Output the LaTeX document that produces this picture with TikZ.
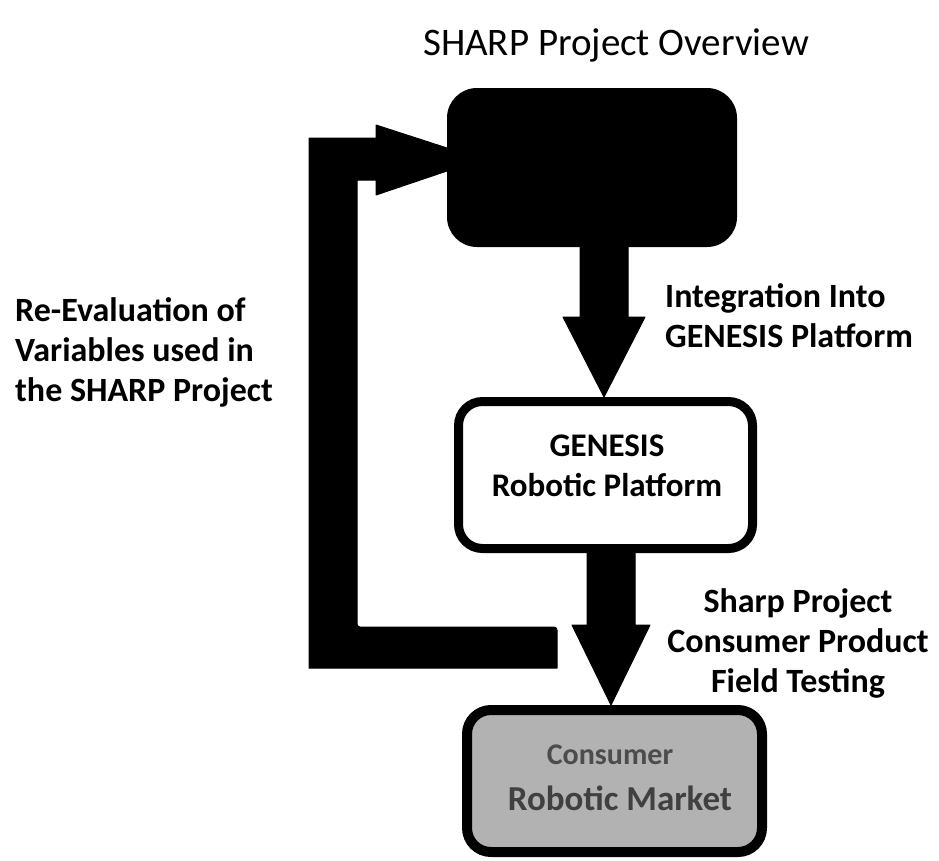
\documentclass[tikz,border=0pt]{standalone}
\usepackage{fontspec}
\setmainfont{Carlito}
\begin{document}
\begin{tikzpicture}[x=1pt,y=-1pt,
  lbl/.style={font=\bfseries\fontsize{34}{40}\selectfont, inner sep=0pt},
  boxtxt/.style={font=\bfseries\fontsize{33}{40}\selectfont, inner sep=0pt},
  arrowshape/.style={fill=black, draw=black, line width=1pt, line join=round}]
\useasboundingbox (0,0) rectangle (939,860);
% title
\node[font=\fontsize{39}{42}\selectfont, inner sep=0pt] (title) at (616,45) {SHARP Project Overview};
% top black box
\node[fill=black, rounded corners=30pt, minimum width=290pt, minimum height=159pt, inner sep=0pt] (top) at (592,167.5) {};
% GENESIS box
\node[draw=black, fill=white, line width=9pt, rounded corners=24pt, minimum width=294pt, minimum height=147pt, inner sep=0pt] (gen) at (605.5,475) {};
\node[boxtxt, align=center] (gentxt) at (607,466) {GENESIS\\Robotic Platform};
% market box
\node[draw=black, fill=black!30, line width=10pt, rounded corners=24pt, minimum width=295pt, minimum height=142pt, inner sep=0pt] (mkt) at (614.5,781) {};
\node[font=\bfseries\fontsize{30}{32}\selectfont, text=black!70, inner sep=0pt] (mkt1) at (610,755) {Consumer};
\node[font=\bfseries\fontsize{35}{38}\selectfont, text=black!75, inner sep=0pt] (mkt2) at (620,798) {Robotic Market};
% arrow 1 top -> gen
\fill[arrowshape] (580,247) -- (580,317) -- (563,317) -- (604,397) -- (645,317) -- (628,317) -- (628,247) -- cycle;
% arrow 2 gen -> mkt
\fill[arrowshape] (587,553) -- (587,625) -- (572,625) -- (611,705) -- (650,625) -- (635,625) -- (635,553) -- cycle;
% feedback loop
\fill[arrowshape] (309,668) -- (557,668) -- (557,630) [rounded corners=3pt] -- (557,627) -- (357,627) [sharp corners] -- (357,180) -- (376,180) -- (376,195) -- (447,171) -- (447,148) -- (376,125) -- (376,138) -- (309,138) -- cycle;
% labels
\node[lbl, align=left, anchor=west] (l1) at (665,316) {Integration Into\\GENESIS Platform};
\node[lbl, align=left, anchor=west] (l2) at (15,352) {Re-Evaluation of\\Variables used in\\the SHARP Project};
\node[lbl, align=center] (l3) at (798,643) {Sharp Project\\Consumer Product\\Field Testing};
\end{tikzpicture}
\end{document}
